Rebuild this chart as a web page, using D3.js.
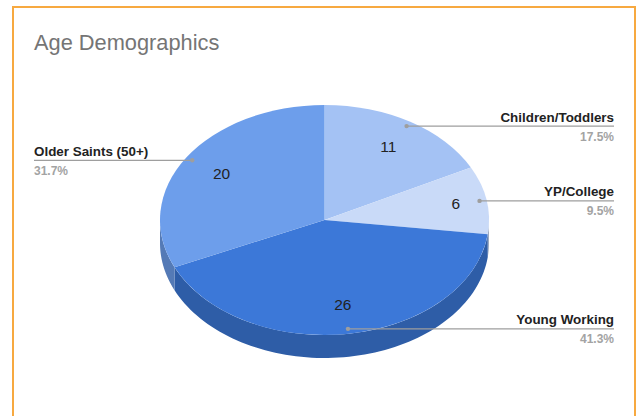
<!DOCTYPE html>
<html><head><meta charset="utf-8">
<script src="https://cdn.jsdelivr.net/npm/d3@7"></script>
<style>html,body{margin:0;padding:0;background:#fff;}svg{display:block;font-family:"Liberation Sans",Arial,sans-serif;}</style>
</head><body>
<svg id="chart" width="636" height="416"></svg>
<script>
const title = "Age Demographics";
const categories = ["Children/Toddlers", "YP/College", "Young Working", "Older Saints (50+)"];
const values = [11, 6, 26, 20];
const colors = ["#a4c2f4", "#c9daf8", "#3c78d8", "#6d9eeb"];

const W = 636, H = 416;
const cx = 324.5, cy = 220, rx = 164.5, ry = 115, depth = 23;
const svg = d3.select("#chart");

// border
svg.append("rect").attr("x", 13).attr("y", 7).attr("width", 622).attr("height", 500)
  .attr("fill", "#fff").attr("stroke", "#f7a940").attr("stroke-width", 2);

svg.append("text").attr("x", 34).attr("y", 50).attr("font-size", 21.8)
  .attr("fill", "#757575").text(title);

const total = d3.sum(values);
const pie = d3.pie().sort(null).value(d => d.v);
const arcs = pie(values.map((v, i) => ({v, i})));

const pt = (a, f = 1, dy = 0) => [cx + rx * f * Math.sin(a), cy - ry * f * Math.cos(a) + dy];

// side walls (front half only)
const line = d3.line();
arcs.forEach(a => {
  const a1 = Math.max(a.startAngle, Math.PI / 2), a2 = Math.min(a.endAngle, 3 * Math.PI / 2);
  if (a1 >= a2) return;
  const n = 80, ts = d3.range(n + 1).map(k => a1 + (a2 - a1) * k / n);
  const pts = ts.map(t => pt(t)).concat(ts.slice().reverse().map(t => pt(t, 1, depth)));
  svg.append("path").attr("d", line(pts) + "Z").attr("fill", d3.rgb(colors[a.data.i]).darker(0.72));
});

// tops
const arcGen = d3.arc().innerRadius(0).outerRadius(rx);
const g = svg.append("g").attr("transform", `translate(${cx},${cy}) scale(1,${ry / rx})`);
g.selectAll("path").data(arcs).join("path").attr("d", arcGen)
  .attr("fill", d => colors[d.data.i]);

// value labels
arcs.forEach(a => {
  const mid = (a.startAngle + a.endAngle) / 2;
  const f = a.data.v / total < 0.12 ? 0.81 : 0.745;
  const p = pt(mid, f);
  svg.append("text").attr("x", p[0]).attr("y", p[1]).attr("dy", "0.36em")
    .attr("text-anchor", "middle").attr("font-size", 15.5).attr("fill", "#222")
    .text(a.data.v);
});

// leader lines and labels
const fmt = d3.format(".1%");
arcs.forEach(a => {
  const mid = (a.startAngle + a.endAngle) / 2;
  const p = pt(mid, 0.957);
  const right = Math.sin(mid) >= 0;
  const x2 = right ? 614 : 34;
  svg.append("line").attr("x1", p[0]).attr("y1", p[1]).attr("x2", x2).attr("y2", p[1])
    .attr("stroke", "#9e9e9e").attr("stroke-width", 1.3);
  svg.append("circle").attr("cx", p[0]).attr("cy", p[1]).attr("r", 2.2).attr("fill", "#9e9e9e");
  const anchor = right ? "end" : "start";
  svg.append("text").attr("x", x2).attr("y", p[1] - 4.5).attr("text-anchor", anchor)
    .attr("font-size", 13.4).attr("font-weight", "bold").attr("fill", "#222")
    .text(categories[a.data.i]);
  svg.append("text").attr("x", x2).attr("y", p[1] + 14.5).attr("text-anchor", anchor)
    .attr("font-size", 12).attr("font-weight", "bold").attr("fill", "#a3a3a3")
    .text(fmt(a.data.v / total));
});
</script>
</body></html>
